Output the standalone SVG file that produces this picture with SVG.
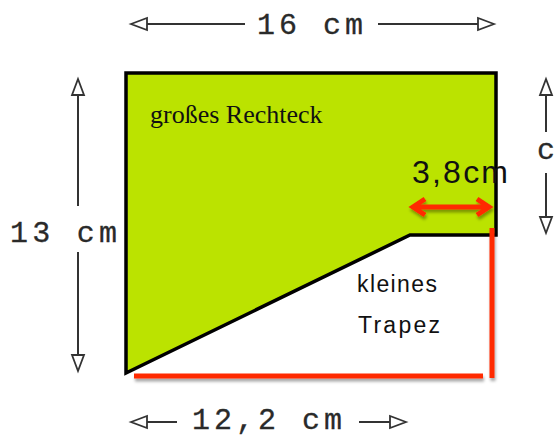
<svg xmlns="http://www.w3.org/2000/svg" width="560" height="439" viewBox="0 0 560 439">
<defs>
<style>
.dim{stroke:#333;stroke-width:2;fill:none}
.head{fill:#fff;stroke:#333;stroke-width:1.8;stroke-linejoin:miter}
.mono{font-family:"Liberation Mono","Courier New",monospace;font-size:30px;fill:#2a2a2a;stroke:#2a2a2a;stroke-width:0.3}
.red{stroke:#ff2a00;stroke-width:5;fill:none}
.sans{font-family:"Liberation Sans",Arial,sans-serif;fill:#111}
</style>
<filter id="sh" x="-10%" y="-50%" width="120%" height="200%">
<feDropShadow dx="1" dy="3" stdDeviation="1.5" flood-color="#000" flood-opacity="0.35"/>
</filter>
</defs>
<g id="shape">
<polygon points="126,73 496,73 496,235 410,235 126,373" fill="#bbe300" stroke="#000" stroke-width="3.5" stroke-linejoin="miter"/>
<text x="150" y="123" font-family="Liberation Serif,'Times New Roman',serif" font-size="26" fill="#111">großes Rechteck</text>
</g>
<g id="trapez-label">
<text class="sans" x="357" y="292" font-size="23" textLength="80">kleines</text>
<text class="sans" x="358" y="333" font-size="23" textLength="82">Trapez</text>
</g>
<g id="connectors">
<g id="red-lines" filter="url(#sh)">
<line class="red" x1="134" y1="376" x2="483" y2="376"/>
<line class="red" x1="492" y1="228" x2="492" y2="378"/>
<line class="red" x1="413" y1="207" x2="489" y2="207"/>
<polyline class="red" points="425,199 413,207 425,215"/>
<polyline class="red" points="477,199 489,207 477,215"/>
</g>
<g id="dim16">
<line class="dim" x1="145" y1="24" x2="245" y2="24"/>
<line class="dim" x1="378" y1="24" x2="480" y2="24"/>
<polygon class="head" points="131,24 147,18 147,30"/>
<polygon class="head" points="494,24 478,18 478,30"/>
</g>
<g id="dim12">
<line class="dim" x1="145" y1="422" x2="177" y2="422"/>
<line class="dim" x1="359" y1="422" x2="392" y2="422"/>
<polygon class="head" points="131,422 147,416 147,428"/>
<polygon class="head" points="406,422 390,416 390,428"/>
</g>
<g id="dim13">
<line class="dim" x1="78" y1="93" x2="78" y2="206"/>
<line class="dim" x1="78" y1="252" x2="78" y2="357"/>
<polygon class="head" points="78,79 72,95 84,95"/>
<polygon class="head" points="78,371 72,355 84,355"/>
</g>
<g id="dimc">
<line class="dim" x1="546" y1="93" x2="546" y2="132"/>
<line class="dim" x1="546" y1="173" x2="546" y2="219"/>
<polygon class="head" points="546,79 540,95 552,95"/>
<polygon class="head" points="546,233 540,217 552,217"/>
</g>
</g>
<g id="labels">
<text class="mono" x="257" y="34" textLength="106">16 cm</text>
<text class="mono" x="192" y="429" textLength="150">12,2 cm</text>
<text class="mono" x="10" y="242" textLength="107">13 cm</text>
<text class="mono" x="537" y="159">c</text>
<text class="sans" x="412" y="183" font-size="32" fill="#000" textLength="96">3,8cm</text>
</g>
</svg>
